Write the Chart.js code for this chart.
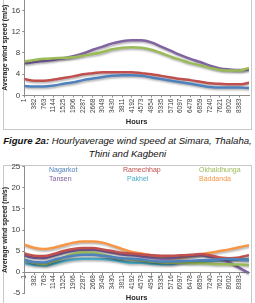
<!DOCTYPE html>
<html>
<head>
<meta charset="utf-8">
<script src="https://cdn.jsdelivr.net/npm/chart.js@4.4.0/dist/chart.umd.min.js"></script>
<style>
  body { margin: 0; width: 255px; height: 303px; overflow: hidden; position: relative; background: #fff; font-family: "Liberation Sans", Arial, sans-serif; }
  .frame { position: absolute; border: 1px solid #c8c8c8; box-sizing: border-box; }
  .wrap { position: absolute; left: 0; width: 255px; }
  #caption { position: absolute; left: 0; top: 134px; width: 255px; text-align: center; font-size: 9.6px; line-height: 13px; font-style: italic; color: #111; white-space: nowrap; }
  #legend2 span { position: absolute; font-size: 7px; line-height: 8px; font-family: "Liberation Sans", Arial, sans-serif; }
</style>
</head>
<body>
<div class="frame" style="left:3px;top:-3px;width:249px;height:133px"></div>
<div class="frame" style="left:3px;top:165px;width:249px;height:150px"></div>
<div id="caption"><b>Figure 2a:</b> Hourlyaverage wind speed at Simara, Thalaha,<br>Thini and Kagbeni</div>
<div class="wrap" style="top:-7px;height:133px"><canvas id="chart1"></canvas></div>
<div class="wrap" style="top:160px;height:140px"><canvas id="chart2"></canvas></div>
<div id="legend2"></div>
<script>
// hours where the x axis is labelled (every 381 h), plus the last hour of the year
const tickHours = [1, 382, 763, 1144, 1525, 1906, 2287, 2668, 3049, 3430, 3811, 4192,
  4573, 4954, 5335, 5716, 6097, 6478, 6859, 7240, 7621, 8002, 8383];
const hours = tickHours.concat([8760]);

// Figure 2a
const simara  = [1.8, 1.7, 1.7, 1.9, 2.2, 2.5, 2.9, 3.2, 3.5, 3.7, 3.8, 3.8, 3.7, 3.4, 3.1, 2.8, 2.5, 2.2, 1.9, 1.6, 1.5, 1.5, 1.5, 1.4];
const thalaha = [3.1, 2.8, 2.8, 3.0, 3.3, 3.6, 4.0, 4.2, 4.4, 4.4, 4.4, 4.4, 4.2, 4.0, 3.7, 3.4, 3.1, 2.9, 2.6, 2.3, 2.2, 2.1, 2.1, 2.4];
const thini   = [6.4, 6.7, 6.9, 7.0, 7.1, 7.2, 7.5, 7.8, 8.2, 8.7, 9.0, 9.1, 9.0, 8.6, 8.0, 7.3, 6.7, 6.1, 5.7, 5.2, 4.8, 4.7, 4.7, 5.2];
const kagbeni = [6.0, 6.3, 6.5, 6.7, 7.0, 7.4, 7.9, 8.6, 9.2, 9.8, 10.2, 10.4, 10.4, 10.0, 9.2, 8.4, 7.6, 6.9, 6.3, 5.6, 5.1, 4.9, 4.8, 4.9];

// second figure
const nagarkot    = [2.9, 2.4, 2.3, 2.9, 3.5, 3.9, 4.1, 4.1, 3.9, 3.6, 3.3, 3.2, 3.0, 2.7, 2.5, 2.5, 2.6, 2.7, 2.8, 2.9, 3.0, 3.1, 3.0, 2.8];
const ramechhap   = [4.4, 3.9, 3.8, 4.3, 5.0, 5.5, 5.7, 5.7, 5.4, 5.0, 4.6, 4.4, 4.2, 4.0, 3.9, 3.9, 4.0, 4.1, 4.3, 4.0, 3.5, 3.3, 3.5, 4.0];
const okhaldhunga = [3.0, 2.2, 1.9, 2.6, 3.5, 4.3, 4.7, 4.6, 4.2, 3.6, 3.2, 3.0, 2.8, 2.5, 2.3, 2.2, 2.2, 2.1, 2.1, 2.0, 1.9, 1.9, 1.8, 1.7];
const tansen      = [3.9, 3.4, 3.3, 3.9, 4.6, 5.1, 5.3, 5.3, 5.0, 4.6, 4.2, 4.0, 3.7, 3.4, 3.2, 3.3, 3.6, 3.9, 4.0, 3.6, 3.3, 2.3, 1.0, -0.2];
const pakhel      = [2.1, 1.7, 1.6, 2.0, 2.6, 3.0, 3.2, 3.2, 3.1, 2.9, 2.5, 2.2, 2.2, 2.0, 1.9, 1.9, 2.3, 2.5, 2.6, 2.7, 2.8, 2.9, 3.0, 3.1];
const baddanda    = [6.5, 5.8, 5.5, 5.8, 6.4, 7.0, 7.3, 7.3, 7.0, 6.3, 5.5, 4.8, 4.4, 4.0, 3.6, 3.3, 3.4, 3.8, 4.2, 4.6, 5.0, 5.4, 5.9, 6.4];

const excel = { blue: '#4F81BD', red: '#C0504D', green: '#9BBB59', purple: '#8064A2', cyan: '#4BACC6', orange: '#F79646' };
const font = '"Liberation Sans", Arial, sans-serif';
const axisGrey = '#8c8c8c';

const lineShadow = {
  id: 'lineShadow',
  beforeDatasetsDraw(chart) {
    const c = chart.ctx;
    c.save();
    c.shadowColor = 'rgba(0,0,0,0.3)';
    c.shadowBlur = 2;
    c.shadowOffsetX = 1;
    c.shadowOffsetY = 1.5;
  },
  afterDatasetsDraw(chart) {
    chart.ctx.restore();
  },
};

function series(label, values, color) {
  return {
    label: label,
    data: values.map((v, i) => ({ x: hours[i], y: v })),
    borderColor: color,
    backgroundColor: color,
    borderWidth: 2.5,
    pointRadius: 0,
    tension: 0.4,
    cubicInterpolationMode: 'monotone',
  };
}

function makeOptions(yMin, yMax, yStep, xPosition) {
  return {
    responsive: true,
    maintainAspectRatio: false,
    animation: false,
    layout: { padding: { left: 1, right: 6, top: 0, bottom: 0 } },
    plugins: { legend: { display: false }, tooltip: { enabled: false } },
    scales: {
      x: {
        type: 'linear',
        position: xPosition,
        min: 0,
        max: 8760,
        afterBuildTicks: scale => { scale.ticks = tickHours.map(h => ({ value: h })); },
        ticks: {
          autoSkip: false,
          minRotation: 90,
          maxRotation: 90,
          padding: 1,
          color: '#404040',
          font: { family: font, size: 6.5 },
          callback: v => String(v),
        },
        grid: { display: true, drawOnChartArea: false, tickLength: 2, color: axisGrey },
        border: { color: axisGrey },
        title: { display: true, text: 'Hours', color: '#262626', padding: { top: 3, bottom: 0 }, font: { family: font, size: 7.5, weight: 'bold' } },
      },
      y: {
        min: yMin,
        max: yMax,
        ticks: { stepSize: yStep, padding: 2, color: '#404040', font: { family: font, size: 8 } },
        grid: { display: true, drawOnChartArea: false, tickLength: 2, color: axisGrey },
        border: { color: axisGrey },
        title: { display: true, text: 'Average wind speed (m/s)', color: '#262626', padding: 0, font: { family: font, size: 7, weight: 'bold' } },
      },
    },
  };
}

new Chart(document.getElementById('chart1'), {
  type: 'line',
  data: {
    datasets: [
      series('Simara', simara, excel.blue),
      series('Thalaha', thalaha, excel.red),
      series('Thini', thini, excel.green),
      series('Kagbeni', kagbeni, excel.purple),
    ],
  },
  options: makeOptions(0, 18, 2, 'bottom'),
  plugins: [lineShadow],
});

const chart2 = new Chart(document.getElementById('chart2'), {
  type: 'line',
  data: {
    datasets: [
      series('Nagarkot', nagarkot, excel.blue),
      series('Ramechhap', ramechhap, excel.red),
      series('Okhaldhunga', okhaldhunga, excel.green),
      series('Tansen', tansen, excel.purple),
      series('Pakhel', pakhel, excel.cyan),
      series('Baddanda', baddanda, excel.orange),
    ],
  },
  options: makeOptions(-5, 25, 5, { y: 0 }),
  plugins: [lineShadow],
});

// legend sits inside the plot area, two rows of three like the Excel original
const legendSpots = [[49, 166], [123, 166], [199, 166], [49, 175], [127, 175], [199, 175]];
const legendBox = document.getElementById('legend2');
chart2.data.datasets.forEach((ds, i) => {
  const s = document.createElement('span');
  s.textContent = ds.label;
  s.style.color = ds.borderColor;
  s.style.left = legendSpots[i][0] + 'px';
  s.style.top = legendSpots[i][1] + 'px';
  legendBox.appendChild(s);
});
</script>
</body>
</html>
